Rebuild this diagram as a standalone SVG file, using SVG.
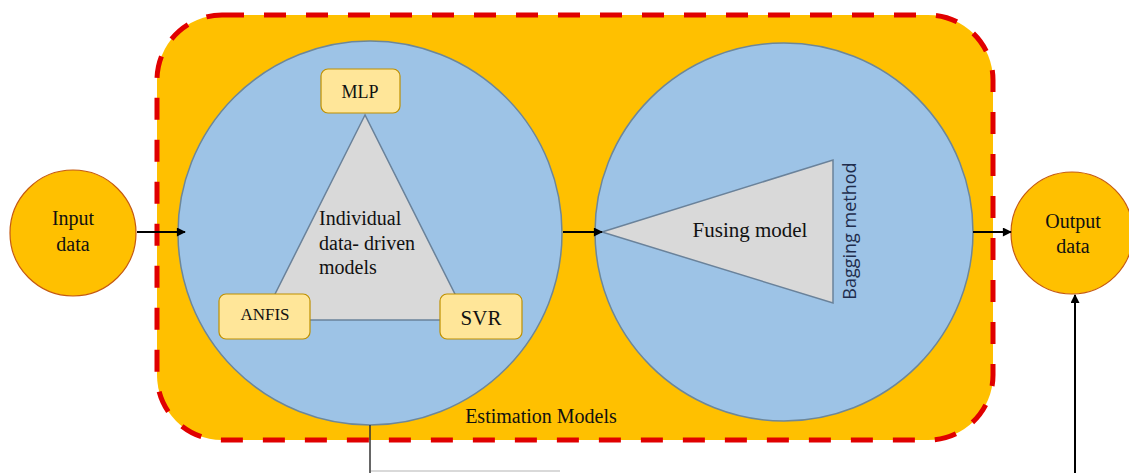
<svg xmlns="http://www.w3.org/2000/svg" width="1129" height="473" viewBox="0 0 1129 473">
<defs>
<marker id="arr" viewBox="0 0 10 10" refX="9" refY="5" markerWidth="10" markerHeight="9" orient="auto-start-reverse" markerUnits="userSpaceOnUse">
<path d="M0,0 L10,5 L0,10 Z" fill="#000"/>
</marker>
</defs>
<style>
.box{fill:#FFE699;stroke:#BF9000;stroke-width:1.2;}
.big{fill:#9DC3E6;stroke:#6D8799;stroke-width:1.5;}
.tri{fill:#D9D9D9;stroke:#6A829A;stroke-width:1.5;}
.io{fill:#FFC000;stroke:#C55A11;stroke-width:1.2;}
.conn{stroke:#000;stroke-width:2;fill:none;}
</style>
<rect width="1129" height="473" fill="#fff"/>
<g font-family="'Liberation Serif','DejaVu Serif',serif" fill="#111">
<g id="estimation-models">
<rect x="157" y="15" width="836" height="425" rx="65" ry="65" fill="#FFC000" stroke="#E00000" stroke-width="5" stroke-dasharray="22,20"/>
<text x="541" y="423" font-size="20" text-anchor="middle">Estimation Models</text>
</g>
<g id="individual-models">
<circle class="big" cx="370" cy="233" r="192"/>
<polygon class="tri" points="365,115 262,320 468,320"/>
<text font-size="20" x="319" y="225">Individual</text>
<text font-size="20" x="319" y="250">data- driven</text>
<text font-size="20" x="319" y="274">models</text>
</g>
<g id="mlp">
<rect class="box" x="321" y="69" width="79" height="44" rx="7"/>
<text x="360" y="98" font-size="18" text-anchor="middle">MLP</text>
</g>
<g id="anfis">
<rect class="box" x="219" y="294" width="91" height="45" rx="7"/>
<text x="265" y="320" font-size="17" text-anchor="middle">ANFIS</text>
</g>
<g id="svr">
<rect class="box" x="440" y="294" width="82" height="45" rx="7"/>
<text x="481" y="325" font-size="21" text-anchor="middle">SVR</text>
</g>
<g id="fusing-model">
<circle class="big" cx="784" cy="232" r="189"/>
<polygon class="tri" points="602,232 833,160 833,303"/>
<text x="750" y="237" font-size="21" text-anchor="middle">Fusing model</text>
<text x="0" y="0" transform="translate(856,231) rotate(-90)" font-family="'Open Sans','Liberation Sans',sans-serif" font-size="18" fill="#1F2D4D" text-anchor="middle">Bagging method</text>
</g>
<g id="input-data">
<circle class="io" cx="73" cy="233" r="63"/>
<text x="73" y="225" font-size="20" text-anchor="middle">Input</text>
<text x="73" y="251" font-size="20" text-anchor="middle">data</text>
</g>
<g id="output-data">
<circle class="io" cx="1072" cy="233" r="61"/>
<text x="1073" y="228" font-size="20" text-anchor="middle">Output</text>
<text x="1073" y="253" font-size="20" text-anchor="middle">data</text>
</g>
</g>
<g id="connectors">
<line class="conn" x1="137" y1="232" x2="185" y2="232" marker-end="url(#arr)"/>
<line class="conn" x1="563" y1="232" x2="602" y2="232" marker-end="url(#arr)"/>
<line class="conn" x1="973" y1="232" x2="1011" y2="232" marker-end="url(#arr)"/>
<line class="conn" x1="1075" y1="473" x2="1075" y2="295" marker-end="url(#arr)"/>
<line x1="370" y1="425" x2="370" y2="473" stroke="#333" stroke-width="1.5"/>
<line x1="371" y1="471" x2="560" y2="471" stroke="#ccc" stroke-width="1.5"/>
</g>
</svg>
